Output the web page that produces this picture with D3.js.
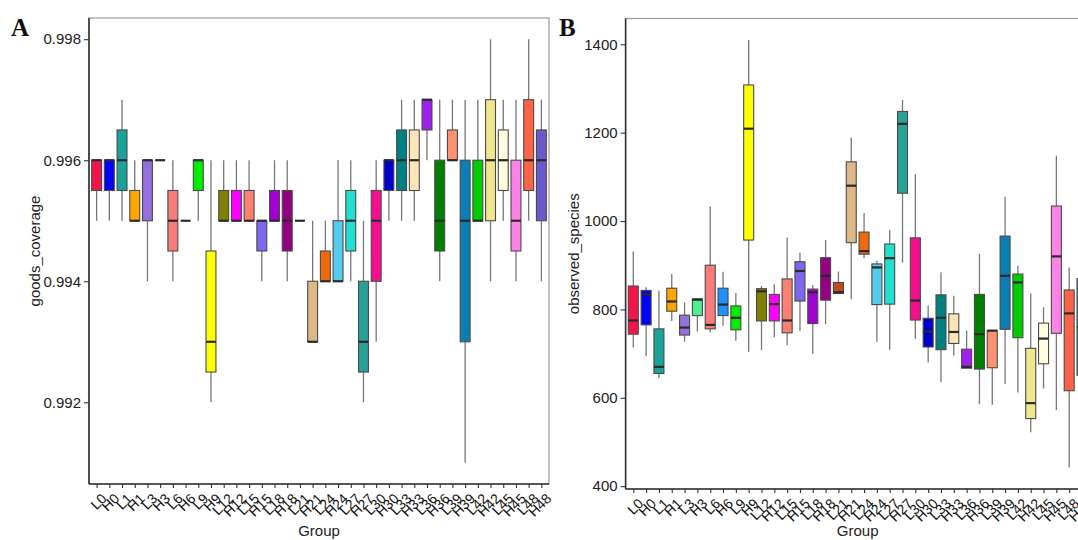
<!DOCTYPE html>
<html><head><meta charset="utf-8">
<script src="https://cdn.jsdelivr.net/npm/d3@7"></script>
<style>
html,body{margin:0;padding:0;background:#fff;}
svg{display:block;}
</style></head>
<body>
<svg id="chart" width="1078" height="540"></svg>
<script>
const groups = ["L0","H0","L1","H1","L3","H3","L6","H6","L9","H9","L12","H12","L15","H15","L18","H18","L21","H21","L24","H24","L27","H27","L30","H30","L33","H33","L36","H36","L39","H39","L42","H42","L45","H45","L48","H48"];

const colors = ["#F5134A","#0000FF","#1AA39A","#FFA500","#9370DB","#4BF08F","#F87C7C","#1E90FF","#00EE00","#FFFF00","#808000","#FF00FF","#FA8072","#7B68EE","#A000D0","#930080","#C04A1A","#DEB887","#F06A0A","#55CCEE","#20E0D0","#2AA198","#F50E8C","#0000CD","#008080","#FFE4B5","#A020F0","#008000","#FF9070","#0A7FB5","#00CC00","#F0E68C","#FFFDE0","#FF82E6","#FF6347","#6A5ACD"];

// Panel A: goods_coverage
const goodsMin = [0.995,0.995,0.995,0.995,0.994,0.996,0.994,0.995,0.995,0.992,0.995,0.995,0.995,0.994,0.995,0.994,0.995,0.993,0.994,0.994,0.994,0.992,0.993,0.995,0.995,0.995,0.996,0.994,0.996,0.991,0.995,0.994,0.995,0.994,0.995,0.994];
const goodsQ1  = [0.9955,0.9955,0.9955,0.995,0.995,0.996,0.9945,0.995,0.9955,0.9925,0.995,0.995,0.995,0.9945,0.995,0.9945,0.995,0.993,0.994,0.994,0.9945,0.9925,0.994,0.9955,0.9955,0.9955,0.9965,0.9945,0.996,0.993,0.995,0.995,0.9955,0.9945,0.9955,0.995];
const goodsMed = [0.996,0.996,0.996,0.995,0.996,0.996,0.995,0.995,0.996,0.993,0.995,0.995,0.995,0.995,0.995,0.995,0.995,0.993,0.994,0.994,0.995,0.993,0.995,0.996,0.996,0.996,0.997,0.995,0.996,0.995,0.995,0.996,0.996,0.995,0.996,0.996];
const goodsQ3  = [0.996,0.996,0.9965,0.9955,0.996,0.996,0.9955,0.995,0.996,0.9945,0.9955,0.9955,0.9955,0.995,0.9955,0.9955,0.995,0.994,0.9945,0.995,0.9955,0.994,0.9955,0.996,0.9965,0.9965,0.997,0.996,0.9965,0.996,0.996,0.997,0.9965,0.996,0.997,0.9965];
const goodsMax = [0.996,0.996,0.997,0.996,0.996,0.996,0.996,0.995,0.996,0.996,0.996,0.996,0.996,0.995,0.996,0.996,0.995,0.995,0.995,0.996,0.996,0.995,0.996,0.996,0.997,0.997,0.997,0.997,0.997,0.997,0.997,0.998,0.997,0.997,0.998,0.997];
const goodsTicks = [0.992,0.994,0.996,0.998];

// Panel B: observed_species
const specMin = [714,694,644,774,727,750,748,763,729,704,708,737,719,751,699,767,836,823,916,727,708,906,733,680,636,696,667,586,584,631,612,522,621,572,442,560];
const specQ1  = [744,765,655,796,742,786,756,786,754,957,774,774,747,819,768,821,836,951,925,811,812,1063,776,715,709,723,667,665,668,755,736,553,677,746,616,651];
const specMed = [775,834,670,818,759,822,765,811,781,1209,841,812,775,887,839,876,839,1080,932,895,916,1220,820,750,781,749,670,744,752,876,861,588,734,920,791,760];
const specQ3  = [853,843,756,848,787,824,900,848,808,1308,847,834,869,908,846,917,861,1134,975,903,948,1248,962,780,833,790,710,834,752,966,880,712,769,1034,844,870];
const specMax = [931,850,842,880,816,824,1033,885,837,1410,853,857,963,928,855,957,886,1189,1018,910,980,1274,1106,809,884,831,752,926,752,1055,899,836,805,1148,895,960];
const specTicks = [400,600,800,1000,1200,1400];

const svg = d3.select("#chart");
svg.append("rect").attr("width",1078).attr("height",540).attr("fill","#fff");
const FONT = "'Liberation Sans', Arial, Helvetica, sans-serif";

function panel(cfg){
  const {left,right,top,bottom,mins,q1s,meds,q3s,maxs,ticks,fmt,ytitle,ytitleX,letter,letterX} = cfg;
  const lo = d3.min(mins), hi = d3.max(maxs), pad = (hi-lo)*0.05;
  const y = d3.scaleLinear().domain([lo-pad, hi+pad]).range([bottom, top]);
  const x = d3.scalePoint().domain(groups).range([left, right]).padding(0.6);
  const bw = x.step()*0.78;
  const g = svg.append("g");

  g.append("rect").attr("x",left).attr("y",top).attr("width",right-left).attr("height",bottom-top)
    .attr("fill","none").attr("stroke","#999").attr("stroke-width",1.2);

  const data = groups.map((k,i)=>({k,i,min:mins[i],q1:q1s[i],med:meds[i],q3:q3s[i],max:maxs[i]}));
  const bx = g.selectAll("g.box").data(data).join("g").attr("class","box");
  bx.append("line").attr("x1",d=>x(d.k)).attr("x2",d=>x(d.k))
    .attr("y1",d=>y(d.max)).attr("y2",d=>y(d.q3)).attr("stroke","#777").attr("stroke-width",1.3);
  bx.append("line").attr("x1",d=>x(d.k)).attr("x2",d=>x(d.k))
    .attr("y1",d=>y(d.q1)).attr("y2",d=>y(d.min)).attr("stroke","#777").attr("stroke-width",1.3);
  bx.append("rect").attr("x",d=>x(d.k)-bw/2).attr("width",bw)
    .attr("y",d=>y(d.q3)).attr("height",d=>Math.max(0,y(d.q1)-y(d.q3)))
    .attr("fill",d=>colors[d.i]).attr("stroke","#4a4a4a").attr("stroke-width",1.1);
  bx.append("line").attr("x1",d=>x(d.k)-bw/2).attr("x2",d=>x(d.k)+bw/2)
    .attr("y1",d=>y(d.med)).attr("y2",d=>y(d.med)).attr("stroke","#2a2a2a").attr("stroke-width",2.2);

  const ya = g.append("g").attr("transform",`translate(${left},0)`)
    .call(d3.axisLeft(y).tickValues(ticks).tickFormat(fmt).tickSize(5).tickPadding(3));
  ya.select(".domain").remove();
  ya.selectAll(".tick line").attr("stroke","#333").attr("stroke-width",1.1);
  ya.selectAll("text").attr("font-family",FONT).attr("font-size",15).attr("fill","#222");

  const xa = g.append("g").attr("transform",`translate(0,${bottom})`)
    .call(d3.axisBottom(x).tickSize(4).tickFormat(d=>d));
  xa.select(".domain").remove();
  xa.selectAll(".tick line").attr("stroke","#333").attr("stroke-width",1.1);
  xa.selectAll("text").attr("font-family",FONT).attr("font-size",14).attr("fill","#111")
    .attr("text-anchor","end").attr("dy",null).attr("y",null)
    .attr("transform","translate(3,8) rotate(-45)").attr("dy","0.75em");

  g.append("line").attr("x1",left).attr("x2",left).attr("y1",top).attr("y2",bottom)
    .attr("stroke","#333").attr("stroke-width",1.6);
  g.append("line").attr("x1",left).attr("x2",right).attr("y1",bottom).attr("y2",bottom)
    .attr("stroke","#333").attr("stroke-width",1.6);

  g.append("text").attr("transform",`translate(${ytitleX},${(top+bottom)/2}) rotate(-90)`)
    .attr("text-anchor","middle").attr("font-family",FONT).attr("font-size",15).attr("fill","#222").text(ytitle);
  g.append("text").attr("x",(left+right)/2).attr("y",536).attr("text-anchor","middle")
    .attr("font-family",FONT).attr("font-size",15).attr("fill","#222").text("Group");
  g.append("text").attr("x",letterX).attr("y",36).attr("font-family","'Liberation Serif','Times New Roman',serif")
    .attr("font-weight","bold").attr("font-size",25).attr("fill","#111").text(letter);
}

panel({left:89,right:549,top:18,bottom:484,mins:goodsMin,q1s:goodsQ1,meds:goodsMed,q3s:goodsQ3,maxs:goodsMax,
  ticks:goodsTicks,fmt:d3.format(".3f"),ytitle:"goods_coverage",ytitleX:40,letter:"A",letterX:11});
panel({left:625.6,right:1089.7,top:18.5,bottom:489,mins:specMin,q1s:specQ1,meds:specMed,q3s:specQ3,maxs:specMax,
  ticks:specTicks,fmt:d3.format("d"),ytitle:"observed_species",ytitleX:579,letter:"B",letterX:559});
</script>
</body></html>
